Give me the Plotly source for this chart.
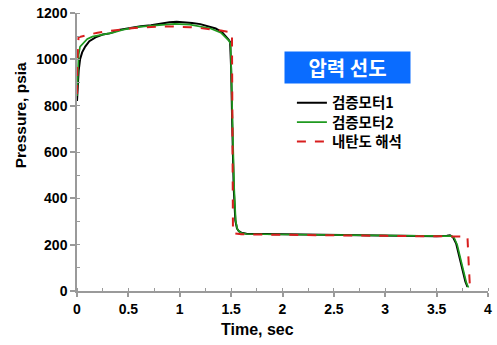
import plotly.graph_objects as go

# ---- data ----
t_m1 = [0, 0.008, 0.016, 0.03, 0.05, 0.08, 0.12, 0.18, 0.25, 0.32, 0.42, 0.52, 0.62, 0.72, 0.82,
        0.9, 0.97, 1.05, 1.12, 1.2, 1.28, 1.35, 1.41, 1.45, 1.475, 1.49, 1.5, 1.51, 1.525, 1.541,
        1.557, 1.575, 1.6, 1.65, 1.8, 2.0, 2.5, 3.0, 3.3, 3.5, 3.6, 3.63, 3.66, 3.69, 3.72, 3.75,
        3.78, 3.8]
p_m1 = [820, 900, 950, 1000, 1030, 1055, 1078, 1095, 1107, 1112, 1128, 1135, 1143, 1147, 1155,
        1160, 1162, 1160, 1157, 1152, 1143, 1133, 1118, 1100, 1085, 1075, 960, 734, 447, 304,
        270, 258, 252, 247, 246, 245, 242, 239, 237, 236, 238, 240, 232, 205, 150, 90,
        40, 18]

t_m2 = [0, 0.008, 0.016, 0.03, 0.06, 0.1, 0.15, 0.25, 0.35, 0.45, 0.6, 0.8, 0.95, 1.1, 1.2,
        1.3, 1.4, 1.45, 1.48, 1.495, 1.505, 1.515, 1.53, 1.545, 1.56, 1.58, 1.6, 1.65, 1.8, 2.0,
        2.5, 3.0, 3.3, 3.5, 3.6, 3.64, 3.67, 3.70, 3.73, 3.76, 3.79, 3.81]
p_m2 = [842, 960, 1020, 1055, 1070, 1088, 1098, 1105, 1115, 1128, 1140, 1148, 1153, 1150, 1143,
        1133, 1115, 1095, 1080, 1065, 920, 700, 440, 300, 268, 256, 250, 246, 245, 244,
        241, 238, 236, 235, 237, 238, 230, 200, 145, 85, 35, 15]

t_an = [0, 0.004, 0.015, 0.05, 0.1, 0.2, 0.3, 0.4, 0.5, 0.6, 0.7, 0.8, 0.9, 1.0, 1.1, 1.2,
        1.3, 1.4, 1.5, 1.508, 1.518, 1.55, 1.6, 1.7, 2.0, 2.5, 3.0, 3.5, 3.8, 3.812, 3.825]
p_an = [850, 1000, 1095, 1100, 1105, 1115, 1122, 1128, 1133, 1137, 1140, 1142, 1142, 1141, 1139, 1135,
        1130, 1124, 1116, 1112, 250, 247, 245, 244, 242, 240, 238, 236, 235, 120, 10]

names = ["검증모터1", "검증모터2", "내탄도 해석"]
legend_title = "압력 선도"
x_ticks = [0, 0.5, 1, 1.5, 2, 2.5, 3, 3.5, 4]
y_ticks = [0, 200, 400, 600, 800, 1000, 1200]

# plot-area geometry (pixels) used to place annotations / legends
L, R, T, B = 77, 492, 12, 290.7
PW, PH = R - L, B - T


def px_x(x):
    return (x - L) / PW


def px_y(y):
    return (B - y) / PH


fig = go.Figure()
fig.add_trace(go.Scatter(x=t_m1, y=p_m1, mode="lines", name=names[0], legend="legend",
                         line=dict(color="#000000", width=2.0)))
fig.add_trace(go.Scatter(x=t_m2, y=p_m2, mode="lines", name=names[1], legend="legend2",
                         line=dict(color="#1f9a1f", width=1.7)))
fig.add_trace(go.Scatter(x=t_an, y=p_an, mode="lines", name=names[2], legend="legend3",
                         line=dict(color="#d81e1e", width=2, dash="dash")))

font_lat = "Liberation Sans, Arial, sans-serif"
font_kr = "Noto Sans CJK KR, sans-serif"
axis_col = "#9a9a9a"
leg_font = dict(family=font_kr, size=14.5, color="#000000", weight="bold")


def leg(yc):
    return dict(x=px_x(294), y=px_y(yc), xanchor="left", yanchor="middle",
                font=leg_font, bgcolor="rgba(0,0,0,0)", itemwidth=30,
                borderwidth=0)


fig.update_layout(
    width=497, height=345,
    margin=dict(l=L, r=497 - R, t=T, b=345 - B),
    paper_bgcolor="white", plot_bgcolor="white",
    showlegend=True,
    legend=leg(102), legend2=leg(121.5), legend3=leg(141),
    xaxis=dict(range=[0, 4], tickvals=x_ticks, ticktext=[str(v) for v in x_ticks],
               showgrid=False, zeroline=False, showline=True, linecolor=axis_col, linewidth=1.5,
               ticks="outside", ticklen=4, tickcolor=axis_col, tickwidth=1.5,
               minor=dict(dtick=0.25, ticks="inside", ticklen=3, tickcolor=axis_col, tickwidth=1.2),
               tickfont=dict(family=font_lat, size=14, color="#000000", weight="bold")),
    yaxis=dict(range=[0, 1200], tickvals=y_ticks,
               showgrid=False, zeroline=False, showline=True, linecolor=axis_col, linewidth=1.5,
               ticks="outside", ticklen=5, tickcolor=axis_col, tickwidth=1.5,
               minor=dict(dtick=100, ticks="inside", ticklen=3, tickcolor=axis_col, tickwidth=1.2),
               tickfont=dict(family=font_lat, size=14, color="#000000", weight="bold")),
    annotations=[
        dict(text="Time, sec", xref="paper", yref="paper",
             x=px_x(259), y=px_y(329), xanchor="center", yanchor="middle",
             showarrow=False, font=dict(family=font_lat, size=16, color="#000000", weight="bold")),
        dict(text="Pressure, psia", xref="paper", yref="paper", textangle=-90,
             x=px_x(20), y=px_y(115), xanchor="center", yanchor="middle",
             showarrow=False, font=dict(family=font_lat, size=15.5, color="#000000", weight="bold")),
        dict(text=legend_title, xref="paper", yref="paper",
             x=px_x(350.5), y=px_y(66.5), xanchor="center", yanchor="middle",
             showarrow=False, bgcolor="#0a6cff", width=123, height=29,
             font=dict(family=font_kr, size=20, color="#ffffff", weight="bold")),
    ],
)

fig.write_html("out.html")
